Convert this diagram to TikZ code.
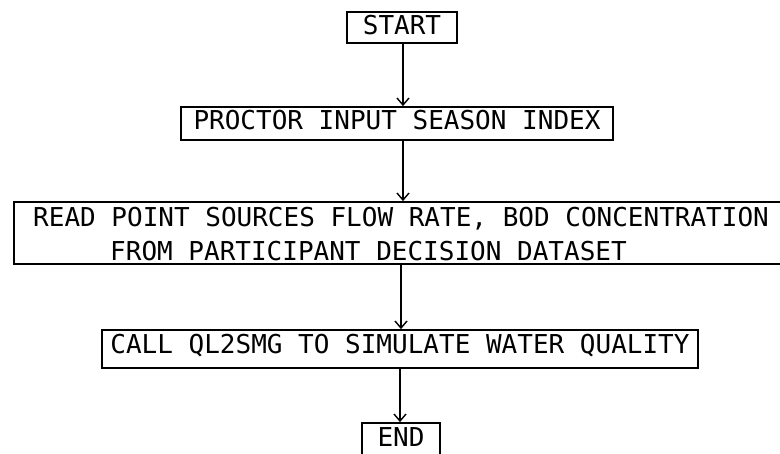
\documentclass[tikz,border=0pt]{standalone}
\usepackage{fontspec}
\newfontfamily\plotfont{DejaVu Sans Mono}
\usetikzlibrary{arrows.meta}
\begin{document}
\begin{tikzpicture}[x=1pt,y=-1pt,
  every node/.style={font=\plotfont\fontsize{26}{34}\selectfont},
  boxnode/.style={draw, line width=1.8pt, inner xsep=0pt},
  txt/.style={inner sep=0pt, anchor=base west},
  arr/.style={line width=1.4pt, -{Straight Barb[length=7pt,width=12pt]}}]
\useasboundingbox (0,0) rectangle (780,454);
\node[boxnode, minimum width=110pt, text height=19pt, text depth=4pt, inner ysep=4pt] (start) at (402,27.5) {START};
\node[boxnode, minimum width=432pt, text height=19pt, text depth=6pt, inner ysep=4pt] (prod) at (397,123.5) {PROCTOR INPUT SEASON INDEX};
\node[boxnode, minimum width=770pt, minimum height=62pt, inner sep=0pt] (read) at (399,233) {};
\node[txt] (readA) at (33,227) {READ POINT SOURCES FLOW RATE, BOD CONCENTRATION};
\node[txt] (readB) at (110,261) {FROM PARTICIPANT DECISION DATASET};
\node[boxnode, minimum width=596pt, text height=19pt, text depth=9pt, inner ysep=5pt] (call) at (400,349) {CALL QL2SMG TO SIMULATE WATER QUALITY};
\node[boxnode, minimum width=78pt, text height=19pt, text depth=10pt, inner ysep=5pt] (end) at (401,442.5) {END};
\coordinate (c1) at (403,0);
\coordinate (c2) at (401,0);
\coordinate (c3) at (400,0);
\draw[arr] (c1 |- start.south) -- (c1 |- prod.north);
\draw[arr] (c1 |- prod.south) -- (c1 |- read.north);
\draw[arr] (c2 |- read.south) -- (c2 |- call.north);
\draw[arr] (c3 |- call.south) -- (c3 |- end.north);
\end{tikzpicture}
\end{document}
